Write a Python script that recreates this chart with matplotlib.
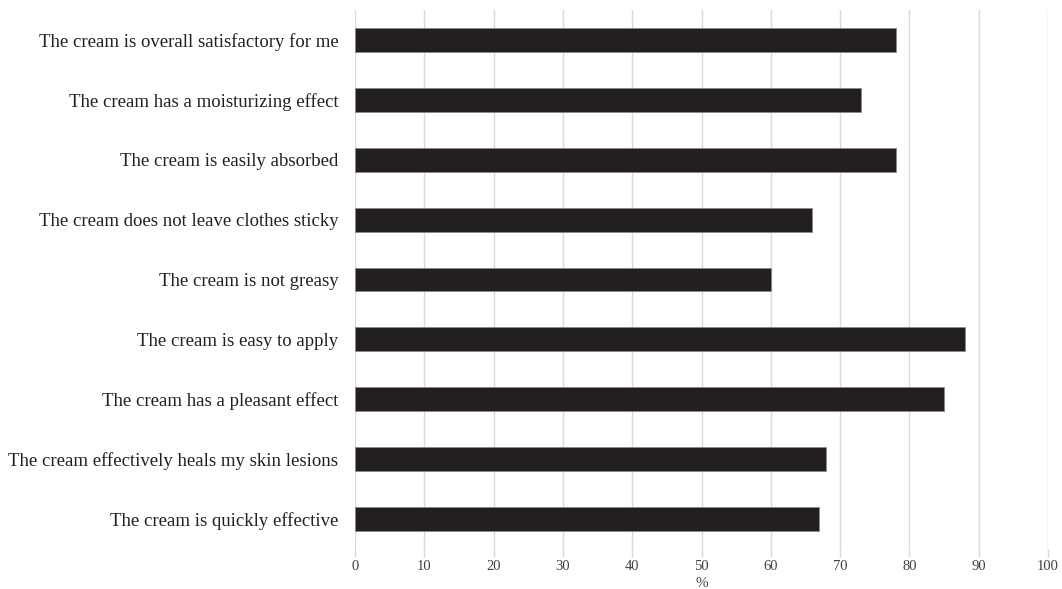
import matplotlib
matplotlib.use("Agg")
import matplotlib.pyplot as plt

categories = [
    "The cream is overall satisfactory for me",
    "The cream has a moisturizing effect",
    "The cream is easily absorbed",
    "The cream does not leave clothes sticky",
    "The cream is not greasy",
    "The cream is easy to apply",
    "The cream has a pleasant effect",
    "The cream effectively heals my skin lesions",
    "The cream is quickly effective",
]
values = [78, 73, 78, 66, 60, 88, 85, 68, 67]
xticks = [0, 10, 20, 30, 40, 50, 60, 70, 80, 90, 100]

plt.rcParams['font.family'] = ['Liberation Serif', 'DejaVu Serif']

fig = plt.figure(figsize=(10.62, 5.89), dpi=100)
ax = fig.add_axes([355/1062, 1-549/589, (1048-355)/1062, (549-10)/589])

ypos = list(range(len(categories)))
ax.barh(ypos, values, height=0.4, color='#231f20', edgecolor='#8a8a8a', linewidth=0.6, zorder=3)
ax.set_ylim(len(categories)-0.5, -0.5)
ax.set_xlim(0, 100)
ax.set_yticks(ypos)
ax.set_yticklabels(categories, fontsize=13.5, color='#231f20')
ax.set_xticks(xticks)
ax.set_xticklabels([str(t) for t in xticks], fontsize=10.5, color='#404040')
ax.grid(axis='x', color='#d9d9d9', linewidth=1, zorder=0)
for s in ax.spines.values():
    s.set_visible(False)
ax.tick_params(axis='y', length=0, pad=12)
ax.tick_params(axis='x', length=6, color='#d9d9d9', width=1, pad=2)
ax.set_xlabel('%', fontsize=11, color='#404040', labelpad=3)

fig.savefig('out.png', dpi=100)
